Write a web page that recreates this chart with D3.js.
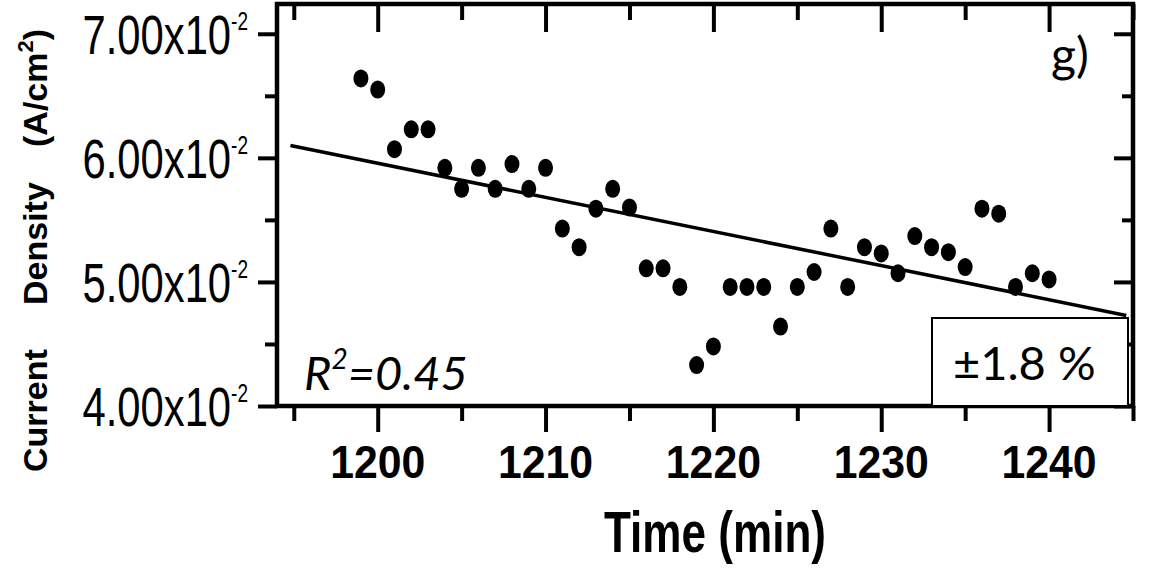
<!DOCTYPE html>
<html>
<head>
<meta charset="utf-8">
<script src="https://cdn.jsdelivr.net/npm/d3@7"></script>
<style>
  body { margin: 0; background: #fff; }
  svg { display: block; }
</style>
</head>
<body>
<div id="chart"></div>
<script>
// time (min) of each measurement
const times = [1199, 1200, 1201, 1202, 1203, 1204, 1205, 1206, 1207, 1208, 1209, 1210,
  1211, 1212, 1213, 1214, 1215, 1216, 1217, 1218, 1219, 1220, 1221, 1222, 1223, 1224,
  1225, 1226, 1227, 1228, 1229, 1230, 1231, 1232, 1233, 1234, 1235, 1236, 1237, 1238,
  1239, 1240];

// current density (A/cm2)
const density = [0.0664, 0.0655, 0.0607, 0.0623, 0.0623, 0.0592, 0.0575, 0.0592, 0.0575,
  0.0595, 0.0575, 0.0592, 0.0543, 0.0528, 0.0559, 0.0575, 0.0560, 0.0511, 0.0511, 0.0496,
  0.0433, 0.0448, 0.0496, 0.0496, 0.0496, 0.0464, 0.0496, 0.0508, 0.0543, 0.0496, 0.0528,
  0.0523, 0.0507, 0.0537, 0.0528, 0.0524, 0.0512, 0.0559, 0.0555, 0.0496, 0.0507, 0.0502];

// linear fit end points
const fitTimes = [1194.8, 1244.6];
const fitDensity = [0.0610, 0.0473];

const xMajor = [1200, 1210, 1220, 1230, 1240];
const xMinor = [1195, 1205, 1215, 1225, 1235, 1245];
const yMajor = [0.04, 0.05, 0.06, 0.07];
const yMinor = [0.045, 0.055, 0.065];

const width = 1155;
const height = 572;
const plot = { left: 277, right: 1133, top: 4, bottom: 406 };
const sans = "'Liberation Sans', Arial, sans-serif";

const svg = d3
  .select("#chart")
  .append("svg")
  .attr("width", width)
  .attr("height", height);

const x = d3.scaleLinear().domain([1194, 1245]).range([plot.left, plot.right]);
const y = d3.scaleLinear().domain([0.04, 0.0724]).range([plot.bottom, plot.top]);

// ticks: bottom/left point out, top/right point in
function addAxis(axis, tx, ty) {
  const g = svg
    .append("g")
    .attr("transform", `translate(${tx},${ty})`)
    .call(axis.tickSizeOuter(0).tickFormat(""));
  g.select(".domain").remove();
  g.selectAll("line").attr("stroke", "#000").attr("stroke-width", 4);
  return g;
}

addAxis(d3.axisBottom(x).tickValues(xMajor).tickSize(26), 0, plot.bottom);
addAxis(d3.axisBottom(x).tickValues(xMinor).tickSize(15), 0, plot.bottom);
addAxis(d3.axisTop(x).tickValues(xMajor).tickSize(-28), 0, plot.top);
addAxis(d3.axisTop(x).tickValues(xMinor).tickSize(-16), 0, plot.top);
addAxis(d3.axisLeft(y).tickValues(yMajor).tickSize(19), plot.left, 0);
addAxis(d3.axisLeft(y).tickValues(yMinor).tickSize(12), plot.left, 0);
addAxis(d3.axisRight(y).tickValues(yMajor).tickSize(-19), plot.right, 0);
addAxis(d3.axisRight(y).tickValues(yMinor).tickSize(-11), plot.right, 0);

// frame
svg
  .append("rect")
  .attr("x", plot.left)
  .attr("y", plot.top)
  .attr("width", plot.right - plot.left)
  .attr("height", plot.bottom - plot.top)
  .attr("fill", "none")
  .attr("stroke", "#000")
  .attr("stroke-width", 4.5);

// x tick labels (bold, slightly condensed)
svg
  .selectAll(".xlab")
  .data(xMajor)
  .enter()
  .append("text")
  .attr("class", "xlab")
  .attr("transform", (d) => `translate(${x(d)},478) scale(0.93,1)`)
  .attr("text-anchor", "middle")
  .style("font-family", sans)
  .style("font-weight", "bold")
  .style("font-size", "46px")
  .text((d) => d);

// y tick labels like 5.00x10^-2
const ylab = svg
  .selectAll(".ylab")
  .data(yMajor)
  .enter()
  .append("text")
  .attr("class", "ylab")
  .attr("transform", (d) => `translate(248,${y(d) + 20}) scale(0.76,1)`)
  .attr("text-anchor", "end")
  .style("font-family", sans)
  .style("font-size", "55px");
ylab.append("tspan").text((d) => (d * 100).toFixed(2) + "x10");
ylab
  .append("tspan")
  .attr("dy", -24)
  .style("font-size", "25px")
  .text("-2");

// axis titles
svg
  .append("text")
  .attr("transform", "translate(715,552) scale(0.76,1)")
  .attr("text-anchor", "middle")
  .style("font-family", sans)
  .style("font-weight", "bold")
  .style("font-size", "58px")
  .text("Time (min)");

// y title, words placed along the axis with wide gaps
const yWords = [
  { text: "Current", start: 472 },
  { text: "Density", start: 305 },
  { text: "(A/cm", start: 147, sup: "2", end: ")" },
];
yWords.forEach((w) => {
  const t = svg
    .append("text")
    .attr("transform", `translate(47,${w.start}) rotate(-90)`)
    .style("font-family", sans)
    .style("font-weight", "bold")
    .style("font-size", "34px");
  t.append("tspan").text(w.text);
  if (w.sup) {
    t.append("tspan").attr("dy", -14).style("font-size", "22px").text(w.sup);
    t.append("tspan").attr("dy", 14).text(w.end);
  }
});

// linear fit
svg
  .append("line")
  .attr("x1", x(fitTimes[0]))
  .attr("y1", y(fitDensity[0]))
  .attr("x2", x(fitTimes[1]))
  .attr("y2", y(fitDensity[1]))
  .attr("stroke", "#000")
  .attr("stroke-width", 3.5);

// measurements
svg
  .selectAll(".dot")
  .data(times)
  .enter()
  .append("ellipse")
  .attr("class", "dot")
  .attr("cx", (d) => x(d))
  .attr("cy", (d, i) => y(density[i]))
  .attr("rx", 7.5)
  .attr("ry", 9)
  .attr("fill", "#000");

// annotations
const r2 = svg
  .append("text")
  .attr("x", 304)
  .attr("y", 390)
  .style("font-family", "Lato, sans-serif")
  .style("font-style", "italic")
  .style("font-size", "47px");
r2.append("tspan").text("R");
r2.append("tspan").attr("dy", -21).style("font-size", "28px").text("2");
r2.append("tspan").attr("dy", 21).text("=0.45");

svg
  .append("rect")
  .attr("x", 932)
  .attr("y", 318)
  .attr("width", 196)
  .attr("height", plot.bottom - 318)
  .attr("fill", "#fff")
  .attr("stroke", "#000")
  .attr("stroke-width", 2);

svg
  .append("text")
  .attr("x", 953)
  .attr("y", 380)
  .style("font-family", "Lato, sans-serif")
  .style("font-size", "47px")
  .text("±1.8 %");

svg
  .append("text")
  .attr("x", 1051)
  .attr("y", 72)
  .style("font-family", "Lato, sans-serif")
  .style("font-size", "48px")
  .text("g)");
</script>
</body>
</html>
